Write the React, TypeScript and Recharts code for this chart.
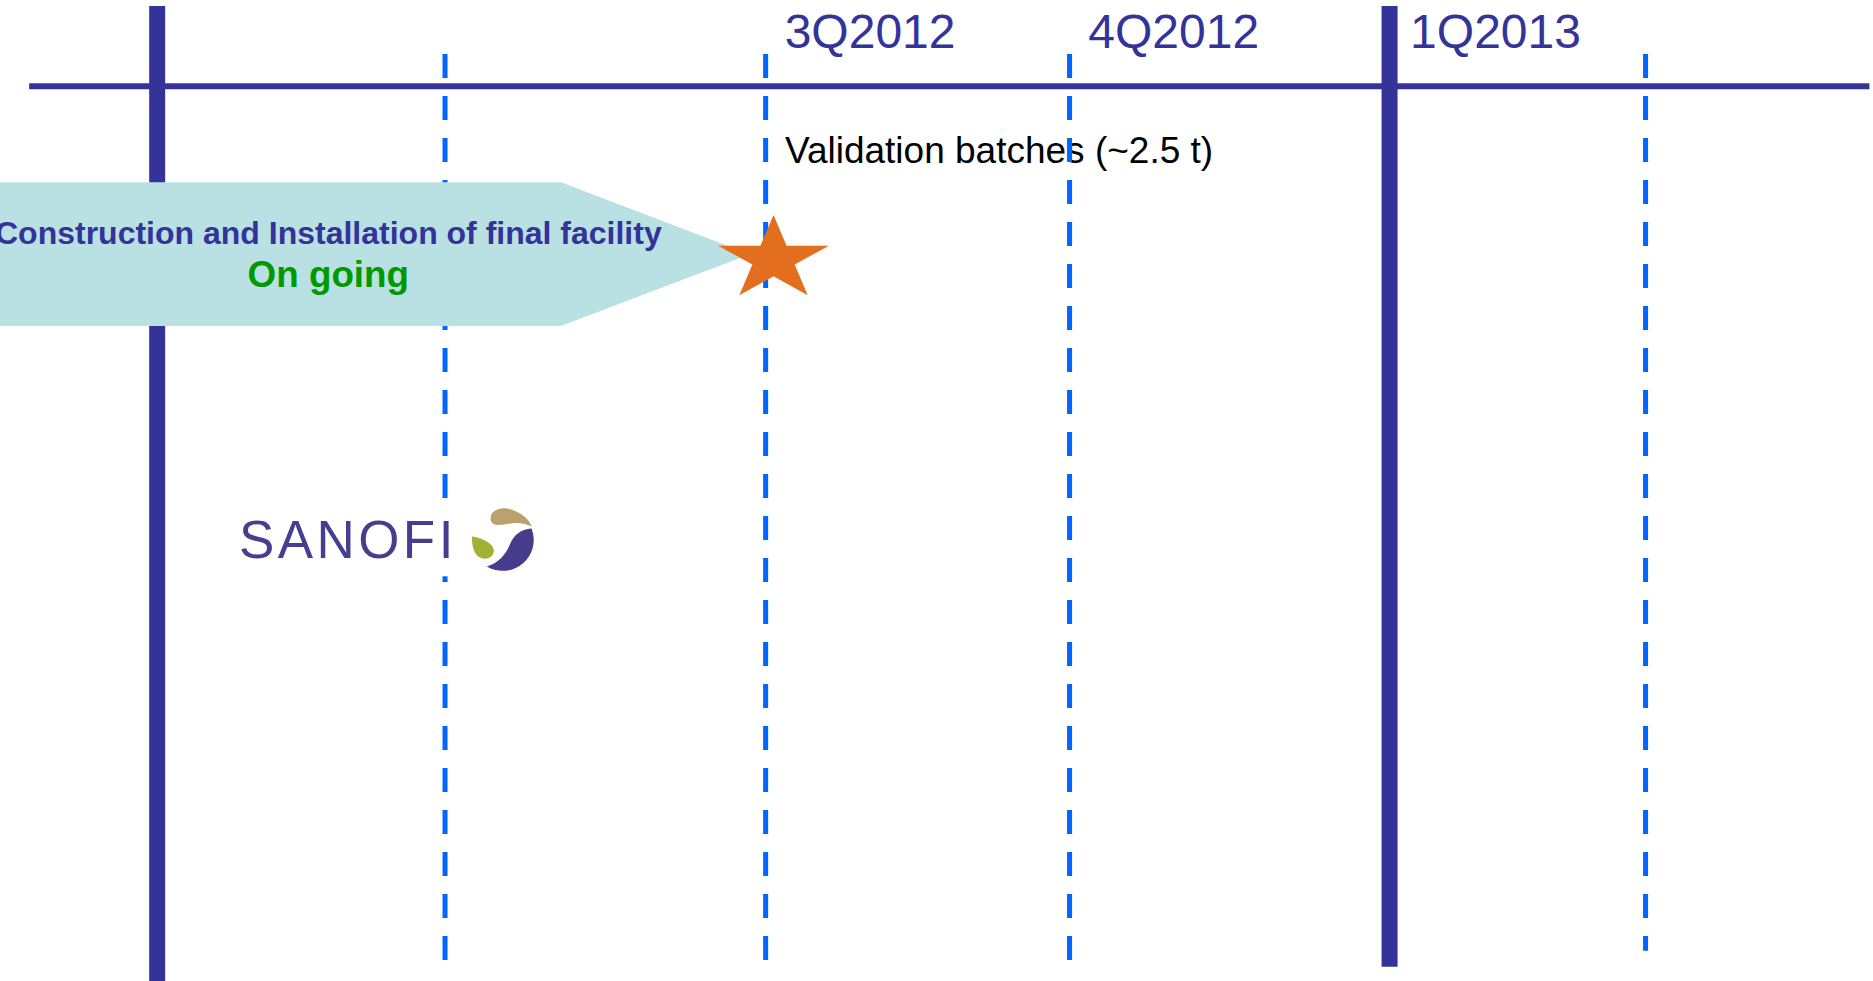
import React from 'react';
import { ComposedChart, XAxis, YAxis, Line, Area, Scatter } from 'recharts';

// x: quarters counted from the start of 2012 (as drawn on the slide)
// y: percent of the slide height, measured from the top
const X_DOMAIN: [number, number] = [-0.528, 5.764];
const Y_DOMAIN: [number, number] = [0, 100];

const timelineAxis = [
  { x: -0.43, y: 8.8 },
  { x: 5.752, y: 8.8 },
];

const yearBoundaries = [
  { id: '2012', x: 0, top: 0.61, bottom: 100 },
  { id: '2013', x: 4.14, top: 0.61, bottom: 98.54 },
];

const quarterBoundaries = [
  { id: '2Q2012', x: 0.967, top: 5.5, bottom: 97.93 },
  { id: '3Q2012', x: 2.044, top: 5.5, bottom: 97.93 },
  { id: '4Q2012', x: 3.065, top: 5.5, bottom: 97.93 },
  { id: '2Q2013', x: 5.0, top: 5.5, bottom: 96.91 },
];

const quarterLabels = [
  { text: '3Q2012', x: 2.108, y: 4.86 },
  { text: '4Q2012', x: 3.128, y: 4.86 },
  { text: '1Q2013', x: 4.209, y: 4.86 },
];

const milestoneNotes = [
  { text: 'Validation batches (~2.5 t)', x: 2.109, y: 16.65 },
];

const phaseArrow = [
  { x: -0.528, range: [18.58, 33.23] },
  { x: 1.356, range: [18.58, 33.23] },
  { x: 1.991, range: [25.91, 25.91] },
];

const phaseTitle = [
  { text: 'Construction and Installation of final facility', x: 0.575, y: 24.87 },
];
const phaseStatus = [{ text: 'On going', x: 0.575, y: 29.29 }];

const milestones = [{ name: 'Validation batches', x: 2.0705, y: 26.44 }];

const logos = [{ name: 'SANOFI', x: 0.2751, y: 56.91 }];

const FONT = "Arial, 'Liberation Sans', sans-serif";
const NAVY = '#333399';
const DASH_BLUE = '#0066FF';

const toLine = (b: { x: number; top: number; bottom: number }) => [
  { x: b.x, y: b.top },
  { x: b.x, y: b.bottom },
];

const makeText = (size: number, color: string, weight: string, anchor: string) =>
  (p: any) => (
    <text
      x={p.cx}
      y={p.cy}
      fontSize={size}
      fill={color}
      fontWeight={weight}
      fontFamily={FONT}
      textAnchor={anchor as any}
    >
      {p.payload.text}
    </text>
  );

const StarShape = (p: any) => {
  const rx = 58.2;
  const ry = 44.4;
  const inner = 0.381966;
  const pts: string[] = [];
  for (let i = 0; i < 10; i++) {
    const a = (-90 + i * 36) * (Math.PI / 180);
    const k = i % 2 === 0 ? 1 : inner;
    pts.push(`${p.cx + rx * k * Math.cos(a)},${p.cy + ry * k * Math.sin(a)}`);
  }
  return <polygon points={pts.join(' ')} fill="#E36F1E" />;
};

const LogoShape = (p: any) => {
  const x = p.cx;
  const y = p.cy;
  const sx = x + 263.8;
  const sy = y - 18.8;
  return (
    <g>
      <rect x={x - 12} y={y - 58} width={325} height={76} fill="#ffffff" />
      <text
        x={x}
        y={y}
        fontSize={53}
        fill="#463F8F"
        fontFamily={FONT}
        letterSpacing={3.4}
      >
        {p.payload.name}
      </text>
      <g transform={`translate(${sx},${sy})`}>
        <path
          d="M -12,-19 C -14,-28 -4,-32 4,-31 C 16,-29 26,-21 29,-13 C 22,-16 15,-17 8,-16 C 0,-15 -10,-12 -12,-19 Z"
          fill="#BBA16E"
        />
        <path
          d="M -31,-3 C -22,-2 -9,4 -9,11 C -9,17 -15,20 -20,19 C -27,18 -31,10 -31,-3 Z"
          fill="#A2B134"
        />
        <path
          d="M 28.7,-11 A 31 31 0 0 1 -16,27 C -5,24 3,15 7,5 C 11,-5 18,-10 28.7,-11 Z"
          fill="#463C8C"
        />
      </g>
    </g>
  );
};

export default function App() {
  const z = (n: number) => ({ zIndex: n } as any);
  return (
    <div style={{ position: 'absolute', left: 0, top: 0, width: 1873, height: 981, background: '#ffffff' }}>
      <ComposedChart width={1873} height={981} margin={{ top: 0, right: 0, bottom: 0, left: 0 }}>
        <XAxis type="number" dataKey="x" domain={X_DOMAIN} allowDataOverflow hide />
        <YAxis type="number" dataKey="y" domain={Y_DOMAIN} allowDataOverflow reversed hide />

        <Scatter
          {...z(100)}
          data={milestoneNotes}
          isAnimationActive={false}
          shape={makeText(37, '#000000', 'normal', 'start')}
        />
        <Scatter
          {...z(100)}
          data={quarterLabels}
          isAnimationActive={false}
          shape={makeText(48, NAVY, 'normal', 'start')}
        />

        <Line
          {...z(200)}
          data={timelineAxis}
          dataKey="y"
          type="linear"
          stroke={NAVY}
          strokeWidth={6}
          dot={false}
          activeDot={false}
          isAnimationActive={false}
        />

        {quarterBoundaries.map((b) => (
          <Line
            {...z(300)}
            key={b.id}
            data={toLine(b)}
            dataKey="y"
            type="linear"
            stroke={DASH_BLUE}
            strokeWidth={5}
            strokeDasharray="24 18"
            dot={false}
            activeDot={false}
            isAnimationActive={false}
          />
        ))}

        {yearBoundaries.map((b) => (
          <Line
            {...z(400)}
            key={b.id}
            data={toLine(b)}
            dataKey="y"
            type="linear"
            stroke={NAVY}
            strokeWidth={16}
            dot={false}
            activeDot={false}
            isAnimationActive={false}
          />
        ))}

        <Area
          {...z(500)}
          data={phaseArrow}
          dataKey="range"
          type="linear"
          stroke="none"
          fill="#B9E0E3"
          fillOpacity={1}
          dot={false}
          activeDot={false}
          isAnimationActive={false}
        />

        <Scatter
          {...z(600)}
          data={phaseTitle}
          isAnimationActive={false}
          shape={makeText(32, NAVY, 'bold', 'middle')}
        />
        <Scatter
          {...z(600)}
          data={phaseStatus}
          isAnimationActive={false}
          shape={makeText(36.8, '#009900', 'bold', 'middle')}
        />

        <Scatter {...z(700)} data={milestones} isAnimationActive={false} shape={(p: any) => <StarShape {...p} />} />

        <Scatter {...z(800)} data={logos} isAnimationActive={false} shape={(p: any) => <LogoShape {...p} />} />
      </ComposedChart>
    </div>
  );
}
